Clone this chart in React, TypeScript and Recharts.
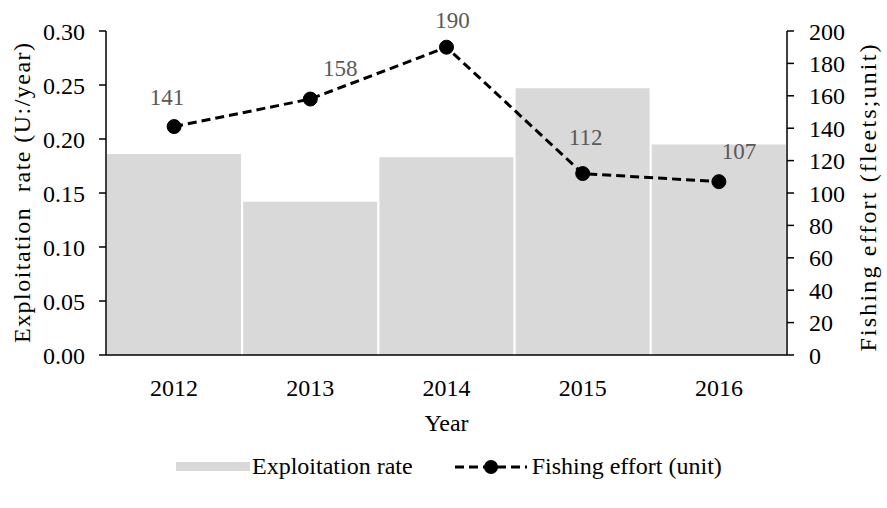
import React from "react"
import { ComposedChart, Bar, Line, XAxis, YAxis, LabelList, Label } from "recharts"

const years = ["2012", "2013", "2014", "2015", "2016"]
const exploitationRate = [0.186, 0.142, 0.183, 0.247, 0.195]
const fishingEffort = [141, 158, 190, 112, 107]
const leftTicks = [0, 0.05, 0.1, 0.15, 0.2, 0.25, 0.3]
const rightTicks = [0, 20, 40, 60, 80, 100, 120, 140, 160, 180, 200]

// label nudges (dx, dy) relative to each point
const labelShift = [
  [-7, -29],
  [30, -31],
  [6, -27],
  [3, -36],
  [20, -30],
]

const FONT = "'Liberation Serif', 'Times New Roman', serif"
const FS = 24

const data = years.map((y, i) => ({
  year: y,
  rate: exploitationRate[i],
  effort: fishingEffort[i],
}))

function EffortLabel(props: any) {
  const { x, y, value, index } = props
  const [dx, dy] = labelShift[index] ?? [0, -28]
  return (
    <text
      x={x + dx}
      y={y + dy}
      textAnchor="middle"
      dominantBaseline="central"
      fill="#595959"
      fontSize={23}
      fontFamily={FONT}
    >
      {value}
    </text>
  )
}

function AxisTitle({ viewBox, text, dx, dy, len }: any) {
  const cx = viewBox.x + viewBox.width / 2 + dx
  const cy = viewBox.y + viewBox.height / 2 + dy
  return (
    <text
      x={cx}
      y={cy}
      transform={`rotate(-90, ${cx}, ${cy})`}
      textAnchor="middle"
      dominantBaseline="central"
      fontSize={FS}
      fontFamily={FONT}
      fill="#000"
      textLength={len}
      lengthAdjust="spacing"
      style={{ whiteSpace: "pre" }}
    >
      {text}
    </text>
  )
}

export default function App() {
  return (
    <div style={{ position: "absolute", left: 0, top: 0, width: 887, height: 508, background: "#fff", fontFamily: FONT }}>
      <ComposedChart
        width={887}
        height={508}
        data={data}
        margin={{ top: 31, right: 40, bottom: 71, left: 46 }}
        barCategoryGap={1}
      >
        <XAxis
          dataKey="year"
          tickLine={false}
          tickSize={0}
          tickMargin={24}
          axisLine={{ stroke: "#000", strokeWidth: 1.5 }}
          tick={{ fill: "#000", fontSize: FS, fontFamily: FONT }}
          height={82}
        >
          <Label value="Year" position="insideBottom" offset={0} dy={-6} fill="#000" fontSize={FS} fontFamily={FONT} />
        </XAxis>
        <YAxis
          yAxisId="left"
          domain={[0, 0.3]}
          ticks={leftTicks}
          tickFormatter={(v: number) => v.toFixed(2)}
          width={60}
          tickSize={7}
          tickMargin={14}
          axisLine={{ stroke: "#000", strokeWidth: 1.5 }}
          tickLine={{ stroke: "#000", strokeWidth: 1.5 }}
          tick={{ fill: "#000", fontSize: FS, fontFamily: FONT }}
          interval={0}
        >
          <Label
            content={(p: any) => (
              <AxisTitle viewBox={p.viewBox} text="Exploitation  rate (U:/year)" dx={-54} dy={0} len={300} />
            )}
          />
        </YAxis>
        <YAxis
          yAxisId="right"
          orientation="right"
          domain={[0, 200]}
          ticks={rightTicks}
          width={60}
          tickSize={7}
          tickMargin={15}
          axisLine={{ stroke: "#000", strokeWidth: 1.5 }}
          tickLine={{ stroke: "#000", strokeWidth: 1.5 }}
          tick={{ fill: "#000", fontSize: FS, fontFamily: FONT, textAnchor: "start" }}
          interval={0}
        >
          <Label
            content={(p: any) => (
              <AxisTitle viewBox={p.viewBox} text="Fishing effort (fleets;unit)" dx={51} dy={5} len={307} />
            )}
          />
        </YAxis>
        <Bar yAxisId="left" dataKey="rate" fill="#d9d9d9" isAnimationActive={false} />
        <Line
          yAxisId="right"
          dataKey="effort"
          stroke="#000"
          strokeWidth={3}
          strokeDasharray="9 5"
          dot={{ r: 7, fill: "#000", stroke: "#000", strokeWidth: 1, strokeDasharray: "" }}
          isAnimationActive={false}
        >
          <LabelList dataKey="effort" content={<EffortLabel />} />
        </Line>
      </ComposedChart>

      {/* legend */}
      <div style={{ position: "absolute", top: 453, left: 176, display: "flex", alignItems: "center", fontSize: FS, color: "#000", whiteSpace: "nowrap" }}>
        <div style={{ display: "flex", alignItems: "center" }}>
          <div style={{ width: 74, height: 9, background: "#d9d9d9", marginRight: 2 }} />
          <span>Exploitation rate</span>
        </div>
        <div style={{ display: "flex", alignItems: "center", marginLeft: 41 }}>
          <svg width={74} height={20} style={{ marginRight: 4 }}>
            <line x1={1} y1={10} x2={73} y2={10} stroke="#000" strokeWidth={3} strokeDasharray="9 5" />
            <circle cx={37} cy={10} r={7} fill="#000" />
          </svg>
          <span>Fishing effort (unit)</span>
        </div>
      </div>
    </div>
  )
}
